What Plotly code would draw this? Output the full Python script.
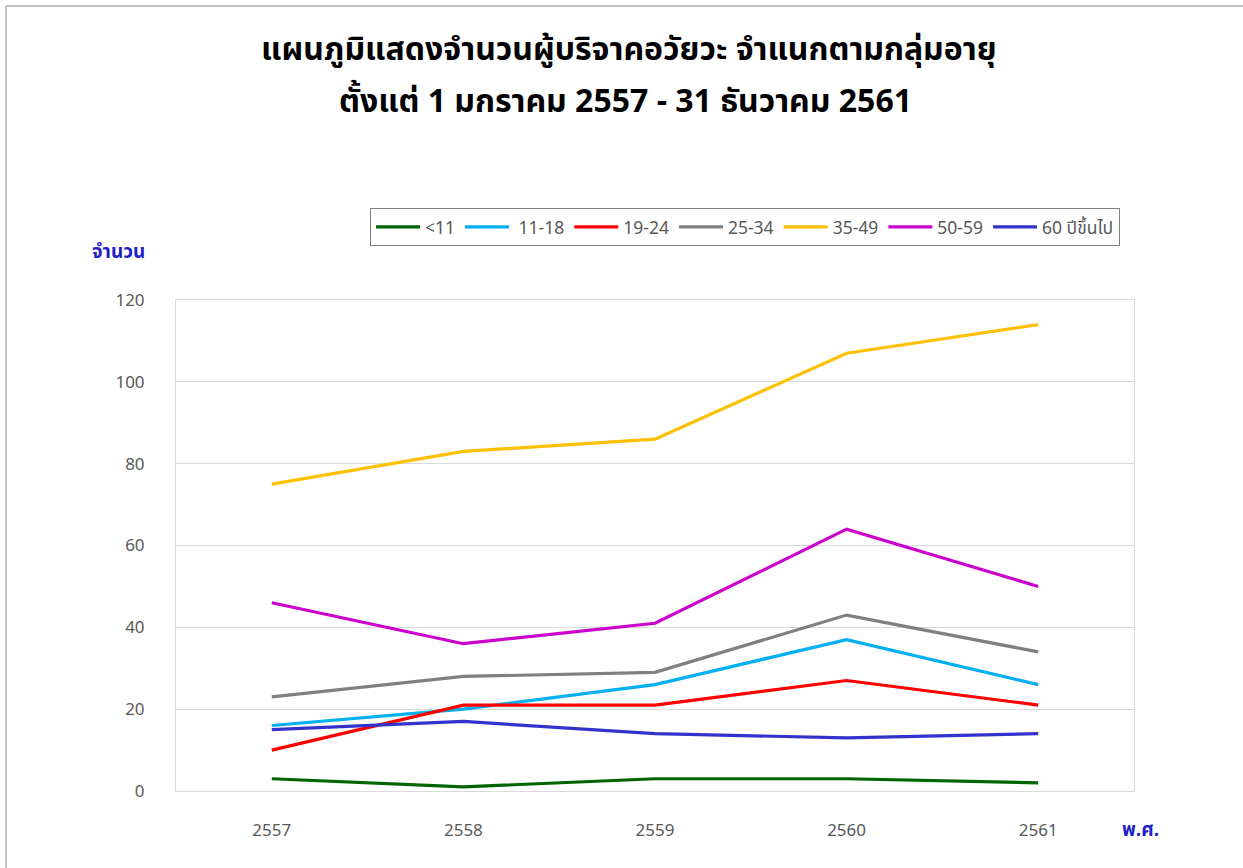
import plotly.graph_objects as go

years = ["2557", "2558", "2559", "2560", "2561"]
s_lt11 = [3, 1, 3, 3, 2]
s_11_18 = [16, 20, 26, 37, 26]
s_19_24 = [10, 21, 21, 27, 21]
s_25_34 = [23, 28, 29, 43, 34]
s_35_49 = [75, 83, 86, 107, 114]
s_50_59 = [46, 36, 41, 64, 50]
s_60 = [15, 17, 14, 13, 14]

names = ["<11", " 11-18", "19-24", "25-34", "35-49", "50-59", "60 ปีขึ้นไป"]
series = [s_lt11, s_11_18, s_19_24, s_25_34, s_35_49, s_50_59, s_60]
colors = ["#006400", "#00B0F0", "#FF0000", "#808080", "#FFC000", "#CC00CC", "#3333CC"]

W, H = 1243, 868
L, R, T, B = 176, 109, 300, 77
PW, PH = W - L - R, H - T - B


def px(x):
    return (x - L) / PW


def py(y):
    return (H - B - y) / PH


fig = go.Figure()
for n, s, c in zip(names, series, colors):
    fig.add_trace(go.Scatter(x=years, y=s, name=n, mode="lines",
                             line=dict(color=c, width=3.2)))

font_fam = "Noto Sans Thai, Tahoma, Noto Sans, sans-serif"
fig.update_layout(
    width=W, height=H,
    paper_bgcolor="white", plot_bgcolor="white",
    margin=dict(l=L, r=R, t=T, b=B),
    font=dict(family=font_fam, color="#595959", size=16),
    showlegend=True,
    legend=dict(orientation="h", x=px(745), xanchor="center", y=py(227), yanchor="middle",
                bordercolor="#808080", borderwidth=1,
                font=dict(size=17.5, color="#595959"),
                itemwidth=44, tracegroupgap=0),
    xaxis=dict(type="category", range=[-0.5, 4.5], showgrid=False,
               showline=True, linecolor="#D9D9D9", mirror=True,
               ticks="", tickfont=dict(size=17, color="#595959"), ticklabelstandoff=24),
    yaxis=dict(range=[0, 120], dtick=20, showgrid=True, gridcolor="#D9D9D9",
               showline=True, linecolor="#D9D9D9", mirror=True, zeroline=False,
               ticks="", tickfont=dict(size=17, color="#595959"), ticklabelstandoff=27),
    annotations=[
        dict(text="<b>แผนภูมิแสดงจำนวนผู้บริจาคอวัยวะ จำแนกตามกลุ่มอายุ</b>",
             xref="paper", yref="paper", x=px(629), y=py(50), xanchor="center", yanchor="middle",
             showarrow=False, font=dict(size=32, color="black")),
        dict(text="<b>ตั้งแต่ 1 มกราคม 2557 - 31 ธันวาคม 2561</b>",
             xref="paper", yref="paper", x=px(625), y=py(102), xanchor="center", yanchor="middle",
             showarrow=False, font=dict(size=32, color="black")),
        dict(text="<b>จำนวน</b>", xref="paper", yref="paper", x=px(118), y=py(253),
             xanchor="center", yanchor="middle", showarrow=False,
             font=dict(size=19, color="#1F1FCC")),
        dict(text="<b>พ.ศ.</b>", xref="paper", yref="paper", x=px(1140), y=py(830),
             xanchor="center", yanchor="middle", showarrow=False,
             font=dict(size=19, color="#1F1FCC")),
    ],
    shapes=[
        dict(type="line", xref="paper", yref="paper", x0=px(6), x1=px(W), y0=py(6), y1=py(6),
             line=dict(color="#C0C0C0", width=2)),
        dict(type="line", xref="paper", yref="paper", x0=px(6), x1=px(6), y0=py(6), y1=py(H),
             line=dict(color="#C0C0C0", width=2)),
    ],
)

fig.write_html("out.html", config={"displayModeBar": False},
               post_script="document.body.style.margin='0';document.body.style.overflow='hidden';")
